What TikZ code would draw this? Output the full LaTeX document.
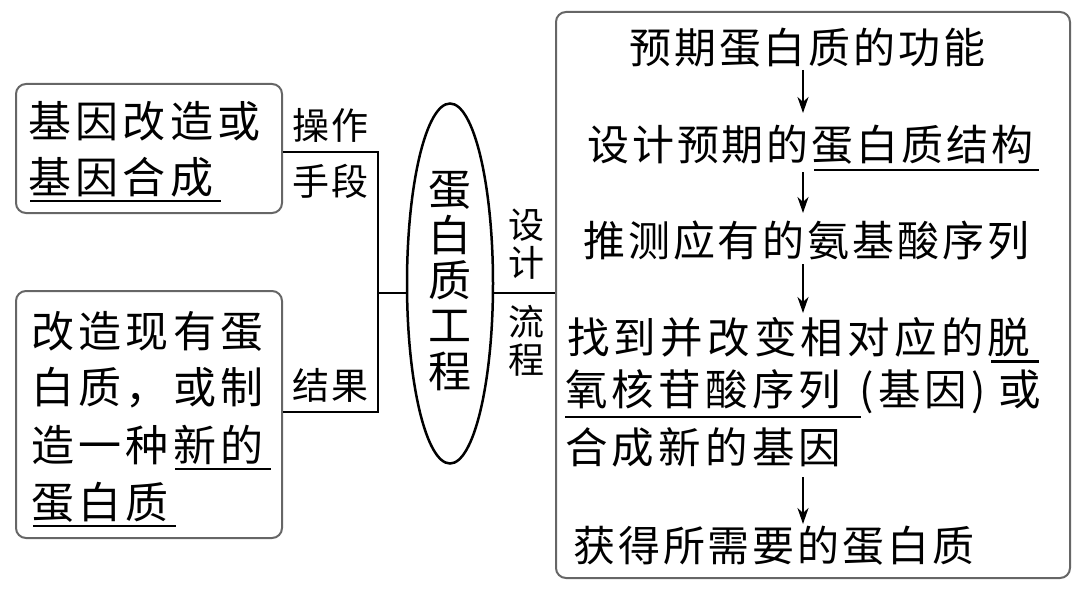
\documentclass[tikz,border=0pt]{standalone}
\usepackage{fontspec}
\newfontfamily\cjk[LetterSpace=7]{Noto Sans CJK SC}
\newfontfamily\cjkw[LetterSpace=10]{Noto Sans CJK SC}
\newfontfamily\cjkv{Noto Sans CJK SC}
\usetikzlibrary{shapes.geometric,arrows.meta}
\begin{document}
\begin{tikzpicture}[x={(1pt,0)},y={(0,-1pt)},
  box/.style={draw=black!60,line width=2pt,rounded corners=10pt,inner sep=0pt},
  txt/.style={font=\cjk\fontsize{42}{45}\selectfont,inner sep=0pt,anchor=west},
  wtxt/.style={font=\cjkw\fontsize{42.5}{45}\selectfont,inner sep=0pt,anchor=west},
  btxt/.style={font=\cjkw\fontsize{43}{45}\selectfont,inner sep=0pt,anchor=west},
  lab/.style={font=\cjk\fontsize{37}{38}\selectfont,inner sep=0pt,anchor=west},
  vlab/.style={font=\cjkv\fontsize{36}{38}\selectfont,inner sep=0pt,align=center},
  conn/.style={line width=2.5pt,black},
  ul/.style={line width=2.5pt,black},
  flow/.style={line width=2.2pt,black,-{Stealth[length=16pt,width=11pt,inset=5pt]}}]
\useasboundingbox (0,0) rectangle (1080,594);
% boxes
\node[box,minimum width=266pt,minimum height=129pt] (b1) at (149,148.5) {};
\node[box,minimum width=266pt,minimum height=247pt] (b2) at (149,414.5) {};
\node[box,minimum width=514pt,minimum height=566pt] (rb) at (813,295) {};
\node[draw,ellipse,line width=2.5pt,minimum width=86pt,minimum height=360pt,inner sep=0pt] (ell) at (450,283.5) {};
% box 1 text
\node[btxt] (t11) at (28,121) {基因改造或};
\node[btxt] (t12) at (28,177) {基因合成};
\draw[ul] (30,201) -- (221,201);
% box 2 text
\node[btxt] (t21) at (31,331) {改造现有蛋};
\node[btxt] (t22) at (31,388) {白质，或制};
\node[btxt] (t23) at (31,445) {造一种新的};
\draw[ul] (175,469) -- (271,469);
\node[btxt] (t24) at (31,502) {蛋白质};
\draw[ul] (33,526) -- (176,526);
% labels
\node[lab] (l1) at (292,125) {操作};
\node[lab] (l2) at (292,181) {手段};
\node[lab] (l3) at (292,385) {结果};
\node[font=\cjkv\fontsize{43}{45.4}\selectfont,inner sep=0pt,align=center] (et) at (450,281) {蛋\\白\\质\\工\\程};
\node[vlab] (v1) at (526,244) {设\\计};
\node[vlab] (v2) at (526,341) {流\\程};
% bracket
\coordinate (k1) at (378,152);
\coordinate (k2) at (378,412);
\coordinate (km) at (378,293);
\draw[conn] (b1.east |- k1) -- (k1) -- (k2) -- (b2.east |- k2);
\draw[conn] (km) -- (ell.west |- km);
\draw[conn] (ell.east |- km) -- (rb.west |- km);
% right box text
\node[txt] (r1) at (629,48) {预期蛋白质的功能};
\node[txt] (r2) at (587,145) {设计预期的蛋白质结构};
\draw[ul] (814,170) -- (1039,170);
\node[txt] (r3) at (583,241) {推测应有的氨基酸序列};
\node[wtxt] (r4) at (567,337) {找到并改变相对应的脱};
\draw[ul] (991,361.5) -- (1039,361.5);
\node[wtxt] (r5) at (565,392) {氧核苷酸序列\hspace{18pt}(基因)\hspace{13pt}或};
\draw[ul] (565,417) -- (861,417);
\node[wtxt] (r6) at (565,447) {合成新的基因};
\node[txt] (r7) at (573,546) {获得所需要的蛋白质};
% arrows
\coordinate (a1s) at (803,70);  \coordinate (a1e) at (803,113);
\coordinate (a2s) at (803,172); \coordinate (a2e) at (803,213);
\coordinate (a3s) at (803,264); \coordinate (a3e) at (803,313);
\coordinate (a4s) at (803,477); \coordinate (a4e) at (803,524);
\draw[flow] (a1s) -- (a1e);
\draw[flow] (a2s) -- (a2e);
\draw[flow] (a3s) -- (a3e);
\draw[flow] (a4s) -- (a4e);
\end{tikzpicture}
\end{document}
